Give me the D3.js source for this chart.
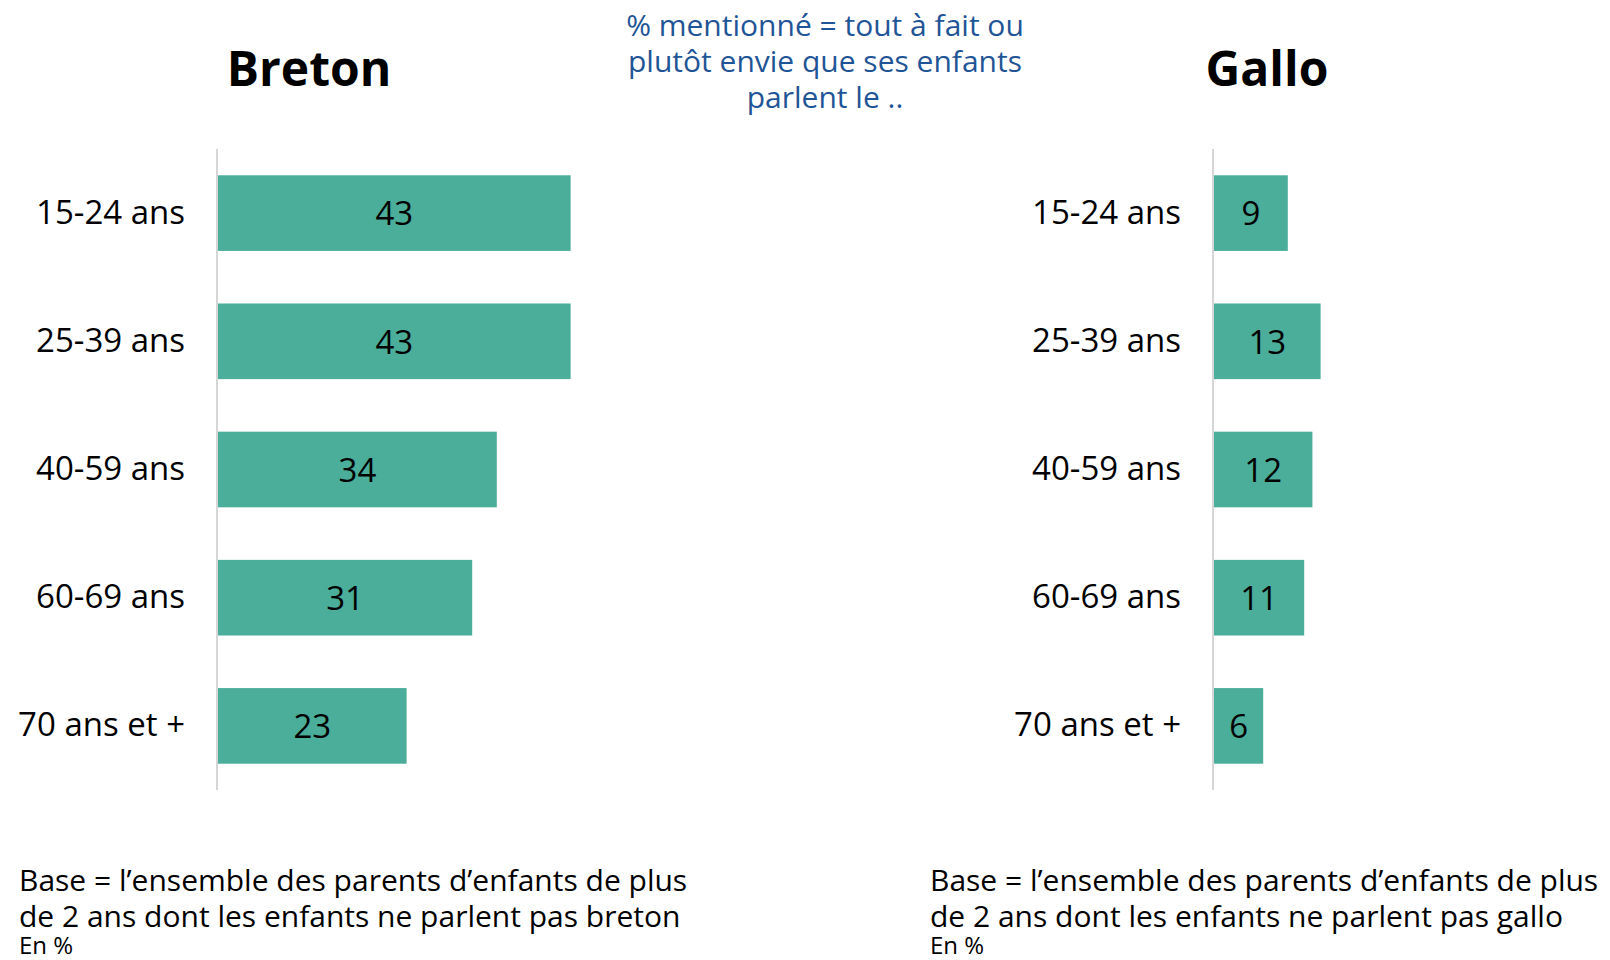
<!DOCTYPE html>
<html lang="fr">
<head>
<meta charset="utf-8">
<title>Envie que ses enfants parlent breton / gallo</title>
<script src="https://cdn.jsdelivr.net/npm/d3@7/dist/d3.min.js"></script>
<style>
  html, body { margin: 0; padding: 0; background: #ffffff; }
  svg { display: block; font-family: "Segoe UI", "Open Sans", "Noto Sans", sans-serif; }
</style>
</head>
<body>
<svg id="chart" width="1610" height="960"></svg>
<script>
// Age groups (top to bottom)
const categories = ["15-24 ans", "25-39 ans", "40-59 ans", "60-69 ans", "70 ans et +"];

// % of parents who would quite or rather like their children to speak the language
const bretonValues = [43, 43, 34, 31, 23];
const galloValues  = [9, 13, 12, 11, 6];

const panelTitles = ["Breton", "Gallo"];
const subtitleLines = ["% mentionné = tout à fait ou", "plutôt envie que ses enfants", "parlent le .."];
const footnotes = [
  ["Base = l\u2019ensemble des parents d\u2019enfants de plus", "de 2 ans dont les enfants ne parlent pas breton"],
  ["Base = l\u2019ensemble des parents d\u2019enfants de plus", "de 2 ans dont les enfants ne parlent pas gallo"]
];
const unitNote = "En %";

const barColor = "#4aae9b";
const axisColor = "#d6d6d6";
const blue = "#1f5596";

const svg = d3.select("#chart");

// Shared scales: same value scale for both panels
const x = d3.scaleLinear().domain([0, 100]).range([0, 820]);
const y = d3.scaleBand()
  .domain(categories)
  .range([149, 790])
  .paddingInner(0.41)
  .paddingOuter(0.205);

const panels = [
  { title: panelTitles[0], values: bretonValues, x0: 217, titleX: 309, notes: footnotes[0], noteX: 19 },
  { title: panelTitles[1], values: galloValues,  x0: 1213, titleX: 1267, notes: footnotes[1], noteX: 930 }
];

panels.forEach(p => {
  const g = svg.append("g").attr("transform", `translate(${p.x0},0)`);
  const rows = categories.map((c, i) => ({ cat: c, value: p.values[i] }));

  // Panel title
  svg.append("text")
    .attr("x", p.titleX)
    .attr("y", 86)
    .attr("text-anchor", "middle")
    .attr("font-size", 48)
    .attr("font-weight", 700)
    .attr("fill", "#000")
    .text(p.title);

  // Bars
  g.selectAll("rect.bar")
    .data(rows)
    .join("rect")
    .attr("class", "bar")
    .attr("x", x(0) + 1)
    .attr("y", d => y(d.cat))
    .attr("width", d => x(d.value))
    .attr("height", y.bandwidth())
    .attr("fill", barColor);

  // Vertical baseline
  g.append("line")
    .attr("x1", x(0)).attr("x2", x(0))
    .attr("y1", y.range()[0]).attr("y2", y.range()[1])
    .attr("stroke", axisColor)
    .attr("stroke-width", 2);

  // Category labels
  g.selectAll("text.cat")
    .data(rows)
    .join("text")
    .attr("class", "cat")
    .attr("x", x(0) - 32)
    .attr("y", d => y(d.cat) + y.bandwidth() / 2)
    .attr("dy", "0.32em")
    .attr("text-anchor", "end")
    .attr("font-size", 33)
    .attr("fill", "#000")
    .text(d => d.cat);

  // Value labels centred in each bar
  g.selectAll("text.val")
    .data(rows)
    .join("text")
    .attr("class", "val")
    .attr("x", d => x(0) + 1 + x(d.value) / 2)
    .attr("y", d => y(d.cat) + y.bandwidth() / 2)
    .attr("dy", "0.37em")
    .attr("text-anchor", "middle")
    .attr("font-size", 33)
    .attr("fill", "#000")
    .text(d => d.value);

  // Base note
  const note = svg.append("text")
    .attr("x", p.noteX)
    .attr("font-size", 30)
    .attr("fill", "#000");
  p.notes.forEach((line, i) => {
    note.append("tspan").attr("x", p.noteX).attr("y", 891 + i * 36).text(line);
  });
  svg.append("text")
    .attr("x", p.noteX)
    .attr("y", 954)
    .attr("font-size", 24)
    .attr("fill", "#000")
    .text(unitNote);
});

// Central subtitle
const sub = svg.append("text")
  .attr("text-anchor", "middle")
  .attr("font-size", 30)
  .attr("fill", blue);
subtitleLines.forEach((line, i) => {
  sub.append("tspan").attr("x", 825).attr("y", 36 + i * 35.8).text(line);
});
</script>
</body>
</html>
